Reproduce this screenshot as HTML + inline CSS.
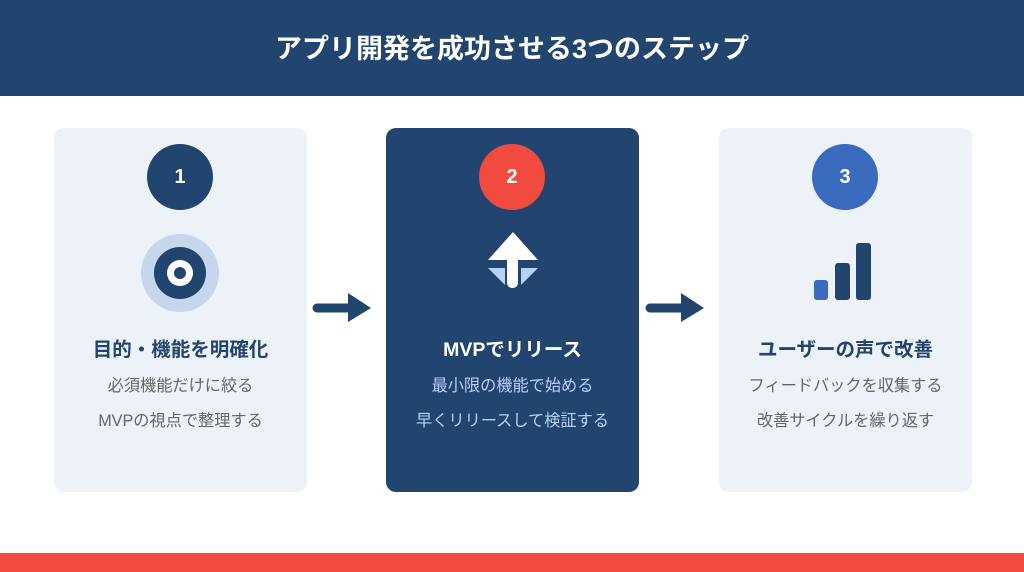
<!DOCTYPE html>
<html><head><meta charset="utf-8"><style>
body{margin:0;width:1024px;height:572px;background:#fff;position:relative;overflow:hidden;font-family:"Liberation Sans","Noto Sans CJK JP",sans-serif}
.hdr{position:absolute;left:0;top:0;width:1024px;height:96px;background:#22456f;color:#fff;font-size:27px;font-weight:bold;text-align:center;line-height:98px}
.foot{position:absolute;left:0;top:553px;width:1024px;height:19px;background:#f04b3e}
.card{position:absolute;top:128px;width:253px;height:364px;border-radius:10px;background:#edf2f9;text-align:center}
.num{position:absolute;left:93px;top:16px;width:66px;height:66px;border-radius:50%;color:#fff;font-weight:bold;font-size:20px;line-height:66px}
.t{position:absolute;left:0;width:100%;top:205px;font-size:19.5px;font-weight:bold;color:#22456f}
.s{position:absolute;left:0;width:100%;font-size:16.2px;color:#666}
</style></head><body>
<div class="hdr">アプリ開発を成功させる3つのステップ</div>
<div class="card" style="left:54px">
 <div class="num" style="background:#22456f">1</div>
 <svg style="position:absolute;left:0;top:0" width="253" height="200"><circle cx="126" cy="145" r="39" fill="#c5d6ed"/><circle cx="126" cy="145" r="26" fill="#22456f"/><circle cx="126" cy="145" r="13" fill="#fff"/><circle cx="126" cy="145" r="6" fill="#22456f"/></svg>
 <div class="t">目的・機能を明確化</div>
 <div class="s" style="top:244px">必須機能だけに絞る</div>
 <div class="s" style="top:279px">MVPの視点で整理する</div>
</div>
<div class="card" style="left:386px;background:#22456f">
 <div class="num" style="background:#f04b3e">2</div>
 <svg style="position:absolute;left:0;top:0" width="253" height="200"><polygon points="127,104 152,132 102,132" fill="#fff"/><rect x="121" y="128" width="11" height="32" rx="5" fill="#fff"/><polygon points="102,140 119,140 119,157" fill="#b7d0f5"/><polygon points="135,140 152,140 135,157" fill="#b7d0f5"/></svg>
 <div class="t" style="color:#fff">MVPでリリース</div>
 <div class="s" style="top:244px;color:#b7d0f5">最小限の機能で始める</div>
 <div class="s" style="top:279px;color:#b7d0f5">早くリリースして検証する</div>
</div>
<div class="card" style="left:719px">
 <div class="num" style="background:#3a6bbf">3</div>
 <svg style="position:absolute;left:0;top:0" width="253" height="200"><rect x="95" y="152" width="14" height="20" rx="3" fill="#3a6bbf"/><rect x="116" y="135" width="15" height="37" rx="3" fill="#22456f"/><rect x="137" y="115" width="15" height="57" rx="3" fill="#22456f"/></svg>
 <div class="t">ユーザーの声で改善</div>
 <div class="s" style="top:244px">フィードバックを収集する</div>
 <div class="s" style="top:279px">改善サイクルを繰り返す</div>
</div>
<svg style="position:absolute;left:0;top:0" width="1024" height="572">
 <g fill="#22456f" stroke="#22456f">
 <line x1="317" y1="308" x2="350" y2="308" stroke-width="9" stroke-linecap="round"/><polygon points="348,293 371,308 348,322" stroke="none"/>
 <line x1="650" y1="308" x2="683" y2="308" stroke-width="9" stroke-linecap="round"/><polygon points="681,293 704,308 681,322" stroke="none"/>
 </g>
</svg>
<div class="foot"></div>
</body></html>
